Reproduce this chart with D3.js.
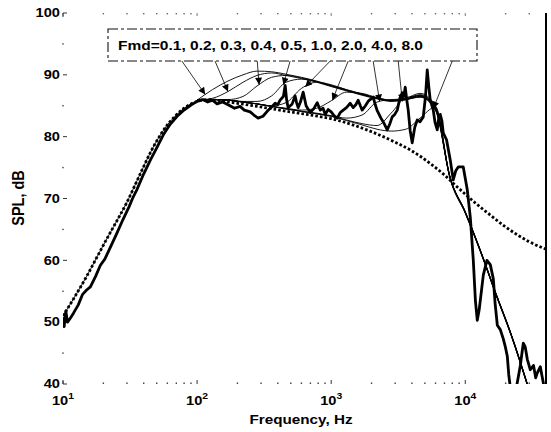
<!DOCTYPE html>
<html>
<head>
<meta charset="utf-8">
<script src="https://cdn.jsdelivr.net/npm/d3@7/dist/d3.min.js"></script>
<style>
  body { margin: 0; background: #fff; }
  svg { display: block; }
  text { font-family: "Liberation Sans", Arial, sans-serif; font-weight: bold; fill: #000; }
</style>
</head>
<body>
<svg id="chart" width="551" height="432"></svg>
<script>
// ---- axis ticks ----
const freqMajor = [10, 100, 1000, 10000];
const freqExponent = ["1", "2", "3", "4"];
const dbTicks = [40, 50, 60, 70, 80, 90, 100];

// ---- reference response (dotted) ----
const baseFreq = [10, 12, 15, 18, 22, 26, 30, 35, 40, 46, 50, 60, 70, 80, 90, 100, 120, 150, 200, 300,
  500, 700, 1000, 1500, 2000, 3000, 4000, 5000, 6000, 7000, 8000, 10000, 12000, 15000, 20000,
  25000, 30000, 40000];
const baseDb = [51.0, 53.8, 57.4, 60.6, 64.1, 66.9, 69.4, 72.5, 75.2, 77.9, 79.3, 81.9, 83.5, 84.6,
  85.3, 85.7, 86.0, 85.8, 85.4, 84.8, 84.0, 83.5, 82.9, 81.8, 80.8, 79.1, 77.7, 76.3, 75.0, 73.8,
  72.6, 70.7, 69.2, 67.5, 65.4, 64.0, 63.0, 61.8];

// ---- measured SPL (thick) ----
const measFreq = [10, 10.2, 10.5, 10.8, 11.3, 12, 13, 14, 15, 16, 17.5, 19, 20.5, 22, 25, 28, 31, 33,
  35.5, 40, 45, 50, 56, 63, 71, 80, 90, 100, 110, 120, 130, 141, 155, 176, 190, 209, 225, 249, 265,
  285, 310, 333, 360, 382, 400, 416, 440, 454, 465, 477, 495, 512, 538, 552, 567, 590, 618, 650,
  697, 740, 787, 828, 870, 902, 950, 1000, 1050, 1109, 1170, 1230, 1300, 1387, 1460, 1530, 1590,
  1650, 1703, 1800, 1900, 2058, 2130, 2205, 2350, 2500, 2618, 2730, 2852, 2980, 3110, 3250, 3388,
  3480, 3566, 3660, 3755, 3880, 4021, 4200, 4384, 4600, 4860, 5050, 5204, 5350, 5480, 5770, 5950,
  6180, 6340, 6505, 6700, 6850, 7250, 7730, 8135, 8500, 8860, 9660, 10350, 10900, 11470, 11900,
  12290, 12700, 13630, 14500, 15370, 16190, 16700, 17340, 18250, 19210, 19900, 20580, 21100, 21660,
  22500, 23600, 24800, 25740, 27080, 28000, 29020, 30560, 32300, 33500, 34470, 36300, 37200, 38200,
  39500];
const measDb = [50.6, 49.3, 51.8, 50.0, 50.6, 51.5, 52.8, 54.5, 55.2, 55.7, 57.4, 59.2, 60.2, 61.6,
  64.2, 66.6, 68.6, 70.0, 71.4, 74.0, 76.3, 78.2, 80.3, 82.0, 83.3, 84.3, 85.1, 85.7, 86.0, 85.6,
  85.9, 85.3, 85.6, 85.0, 84.6, 84.9, 84.3, 84.0, 83.5, 83.0, 83.3, 84.1, 84.8, 85.4, 85.2, 85.9,
  86.5, 88.3, 86.0, 84.7, 85.0, 85.3, 86.6, 85.5, 84.7, 85.6, 87.2, 85.0, 83.9, 84.5, 85.5, 84.3,
  84.6, 83.6, 84.4, 84.0, 83.4, 83.0, 83.9, 84.3, 84.7, 85.4, 84.7, 85.2, 85.9, 85.0, 84.3, 85.0,
  85.8, 86.4, 85.2, 84.2, 83.0, 82.0, 81.1, 82.0, 83.2, 83.6, 84.3, 86.2, 87.1, 86.5, 88.0, 86.0,
  84.3, 81.0, 79.0, 81.5, 82.7, 82.4, 83.2, 86.5, 90.8, 88.0, 85.9, 84.3, 82.3, 81.1, 83.0, 83.6,
  82.5, 80.6, 79.5, 76.2, 73.0, 74.5, 75.1, 75.1, 71.4, 67.0, 60.1, 53.5, 50.3, 52.0, 57.6, 60.0,
  59.3, 57.0, 53.0, 49.5, 48.8, 47.3, 46.0, 44.5, 41.5, 39.5, 37.5, 38.5, 41.0, 43.0, 46.6, 46.0,
  44.0, 42.3, 43.0, 41.0, 41.8, 42.8, 41.5, 40.2, 38.0];

// ---- model curves for each Fmd (thin) ----
const fmdValues = ["0.1", "0.2", "0.3", "0.4", "0.5", "1.0", "2.0", "4.0", "8.0"];
const modelFreq = [100, 130, 170, 220, 280, 360, 460, 600, 780, 1000, 1300, 1700, 2200, 2800, 3600,
  4600, 6000, 7700, 10000, 13000, 17000, 22000, 29000];
const fmd01 = [85.9, 87.6, 89.0, 90.0, 90.6, 90.5, 90.1, 89.6, 89.0, 88.3, 87.6, 86.9, 86.3, 85.9, 86.2, 87.0, 85.0, 73.5, 67.8, 61.5, 54.5, 48.0, 40.0];
const fmd02 = [85.9, 86.2, 87.3, 88.8, 89.9, 90.3, 89.9, 89.4, 88.8, 88.1, 87.4, 86.7, 86.1, 85.7, 86.0, 86.8, 84.8, 73.4, 67.7, 61.4, 54.4, 47.9, 39.9];
const fmd03 = [85.9, 86.0, 86.0, 86.5, 88.2, 89.6, 89.9, 89.5, 88.9, 88.2, 87.5, 86.8, 86.2, 85.8, 86.1, 86.7, 84.7, 73.4, 67.8, 61.5, 54.5, 48.0, 40.0];
const fmd04 = [85.9, 86.0, 85.9, 85.7, 85.7, 86.6, 88.8, 89.3, 88.9, 88.2, 87.5, 86.8, 86.2, 85.8, 86.0, 86.6, 84.6, 73.5, 67.9, 61.6, 54.6, 48.1, 40.1];
const fmd05 = [85.9, 86.0, 85.9, 85.6, 85.3, 85.0, 85.5, 87.8, 88.8, 88.4, 87.6, 86.9, 86.2, 85.8, 86.0, 86.5, 84.5, 73.4, 67.8, 61.5, 54.5, 48.0, 40.0];
const fmd10 = [85.9, 86.0, 85.9, 85.6, 85.3, 84.9, 84.6, 84.3, 84.6, 85.8, 87.2, 87.0, 86.3, 85.9, 86.0, 86.4, 84.4, 73.3, 67.7, 61.4, 54.4, 47.9, 39.9];
const fmd20 = [85.9, 86.0, 85.9, 85.6, 85.3, 84.9, 84.5, 84.1, 83.8, 83.4, 83.0, 83.5, 85.6, 86.0, 86.1, 86.4, 84.3, 73.3, 67.7, 61.4, 54.4, 47.9, 39.9];
const fmd40 = [85.9, 86.0, 85.9, 85.6, 85.3, 84.9, 84.5, 84.1, 83.7, 83.3, 82.7, 82.1, 81.8, 83.8, 86.3, 86.6, 84.2, 73.4, 67.8, 61.5, 54.5, 48.0, 40.0];
const fmd80 = [85.9, 86.0, 85.9, 85.6, 85.3, 84.9, 84.5, 84.1, 83.7, 83.3, 82.6, 81.9, 81.2, 80.9, 81.2, 83.0, 84.8, 73.2, 67.6, 61.3, 54.3, 47.8, 39.8];
const modelCurves = [fmd01, fmd02, fmd03, fmd04, fmd05, fmd10, fmd20, fmd40, fmd80];

// ---- annotation arrows: where each leaves the label box and where it lands on its curve ----
const arrowFromFreq = [77, 136, 281, 494, 984, 1340, 2056, 3162, 8000];
const arrowToFreq = [115, 170, 290, 440, 640, 1020, 2300, 3390, 5770];
const labelText = "Fmd=" + fmdValues.join(", ");

// ---- layout ----
const svg = d3.select("#chart");
const x = d3.scaleLog().domain([10, 40000]).range([63, 546]);
const y = d3.scaleLinear().domain([40, 100]).range([384, 13]);
const [x0, x1] = x.range();
const [yb, yt] = y.range();
const STRETCH = 1.22; // printed lettering is wide

// text placed inside a horizontally widened group
function label(str, px, py, size, anchor, sx) {
  const g = svg.append("g").attr("transform", `translate(${px},${py}) scale(${sx || STRETCH},1)`);
  return g.append("text").attr("text-anchor", anchor).attr("font-size", size).text(str);
}

const defs = svg.append("defs");
defs.append("clipPath").attr("id", "plot")
  .append("rect").attr("x", x0).attr("y", yt).attr("width", x1 - x0).attr("height", yb - yt);
defs.append("marker").attr("id", "head")
  .attr("viewBox", "0 0 10 10").attr("refX", 10).attr("refY", 5)
  .attr("markerWidth", 9).attr("markerHeight", 7).attr("markerUnits", "userSpaceOnUse")
  .attr("orient", "auto")
  .append("path").attr("d", "M0,0 L10,5 L0,10 Z").attr("fill", "#000");

// ---- axes: sparse tick marks ----
const ax = svg.append("g");
const minor = [];
freqMajor.forEach(d => { for (let k = 2; k <= 9; k++) if (k * d <= 40000) minor.push(k * d); });
minor.forEach(f => {
  ax.append("rect").attr("x", x(f) - 0.7).attr("y", yb - 1.5).attr("width", 1.4).attr("height", 1.4).attr("fill", "#333");
  ax.append("rect").attr("x", x(f) - 0.7).attr("y", yt).attr("width", 1.4).attr("height", 1.4).attr("fill", "#666");
});
freqMajor.forEach(f => {
  ax.append("line").attr("x1", x(f)).attr("x2", x(f)).attr("y1", yb).attr("y2", yb - 4)
    .attr("stroke", "#333").attr("stroke-width", 1);
  ax.append("line").attr("x1", x(f)).attr("x2", x(f)).attr("y1", yt).attr("y2", yt + 3)
    .attr("stroke", "#777").attr("stroke-width", 1);
});
dbTicks.forEach(v => {
  ax.append("line").attr("x1", x0).attr("x2", x0 + 4).attr("y1", y(v)).attr("y2", y(v))
    .attr("stroke", "#333").attr("stroke-width", 1);
  if (v < 100) ax.append("rect").attr("x", x0 - 0.7).attr("y", y(v + 5) - 0.7).attr("width", 1.4).attr("height", 1.4).attr("fill", "#444");
});
ax.append("line").attr("x1", x0).attr("x2", x0).attr("y1", yt).attr("y2", yt + 4).attr("stroke", "#333");
ax.append("line").attr("x1", x0).attr("x2", x0).attr("y1", yb).attr("y2", yb - 3).attr("stroke", "#333");
ax.append("line").attr("x1", x1).attr("x2", x1).attr("y1", yt).attr("y2", yb)
  .attr("stroke", "#000").attr("stroke-width", 2);

// tick labels
dbTicks.forEach(v => {
  label(String(v), x0 - 3, y(v), 12, "end").attr("dy", "0.36em");
});
freqMajor.forEach((f, i) => {
  const t = label("", x(f), yb + 21, 12, "middle");
  t.append("tspan").text("10");
  t.append("tspan").attr("dy", -6).attr("font-size", 8.5).text(freqExponent[i]);
});
label("Frequency, Hz", 301, 424, 12.5, "middle");
svg.append("g").attr("transform", "translate(24,198) rotate(-90) scale(1,1.15)")
  .append("text").attr("text-anchor", "middle").attr("font-size", 14.5).text("SPL, dB");

// ---- curves ----
const plot = svg.append("g").attr("clip-path", "url(#plot)");
const smooth = d3.line().x(d => x(d[0])).y(d => y(d[1])).curve(d3.curveMonotoneX);
const jagged = d3.line().x(d => x(d[0])).y(d => y(d[1])).curve(d3.curveLinear);

const basePts = baseFreq.map((f, i) => [f, baseDb[i]]);
// model curves coincide with the reference below 100 Hz
plot.append("path").attr("d", smooth(basePts.filter(d => d[0] <= 100)))
  .attr("fill", "none").attr("stroke", "#000").attr("stroke-width", 0.9);
modelCurves.forEach(vals => {
  plot.append("path").attr("d", smooth(modelFreq.map((f, i) => [f, vals[i]])))
    .attr("fill", "none").attr("stroke", "#000").attr("stroke-width", 0.9);
});

plot.append("path").attr("d", smooth(basePts))
  .attr("fill", "none").attr("stroke", "#000").attr("stroke-width", 2.8)
  .attr("stroke-dasharray", "2.6,2.1");

plot.append("path").attr("d", jagged(measFreq.map((f, i) => [f, measDb[i]])))
  .attr("fill", "none").attr("stroke", "#000").attr("stroke-width", 2.8)
  .attr("stroke-linejoin", "round").attr("stroke-linecap", "round");

// ---- label box and arrows ----
const boxL = 108, boxR = 477, boxT = 29, boxB = 61;
function valueAt(freqs, vals, f) {
  const lf = Math.log10(f);
  const i = Math.max(1, Math.min(freqs.length - 1, d3.bisectLeft(freqs, f)));
  const a = Math.log10(freqs[i - 1]), b = Math.log10(freqs[i]);
  const t = (lf - a) / (b - a);
  return vals[i - 1] + t * (vals[i] - vals[i - 1]);
}
arrowFromFreq.forEach((f, i) => {
  const tf = arrowToFreq[i];
  svg.append("line")
    .attr("x1", x(f)).attr("y1", boxB)
    .attr("x2", x(tf)).attr("y2", y(valueAt(modelFreq, modelCurves[i], tf)))
    .attr("stroke", "#000").attr("stroke-width", 0.8)
    .attr("marker-end", "url(#head)");
});
svg.append("rect").attr("x", boxL).attr("y", boxT).attr("width", boxR - boxL).attr("height", boxB - boxT)
  .attr("fill", "#fff").attr("stroke", "#111").attr("stroke-width", 1.1)
  .attr("stroke-dasharray", "10,3,3,3");
svg.append("text").attr("x", boxL + 10).attr("y", 50).attr("font-size", 13)
  .attr("textLength", 305).attr("lengthAdjust", "spacingAndGlyphs").text(labelText);
</script>
</body>
</html>
